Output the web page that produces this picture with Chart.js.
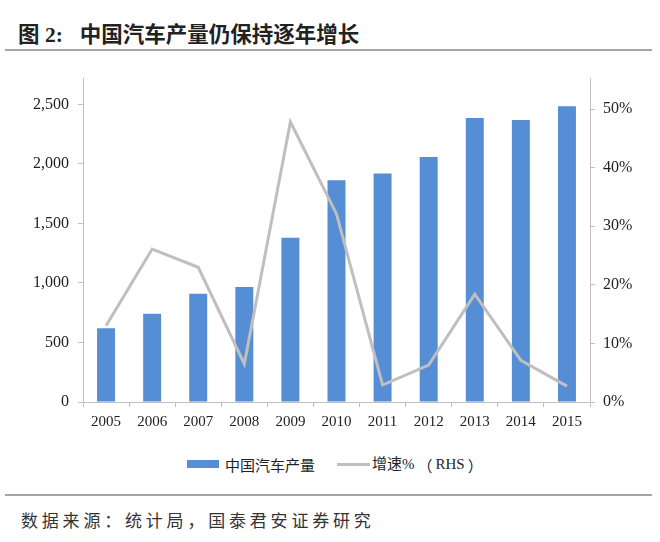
<!DOCTYPE html>
<html>
<head>
<meta charset="utf-8">
<script src="https://cdn.jsdelivr.net/npm/chart.js@4"></script>
<style>
  body { margin: 0; width: 660px; height: 542px; background: #fff; position: relative; overflow: hidden;
         font-family: "Liberation Serif", "Noto Sans CJK SC", serif; color: #222; }
  #title { position: absolute; left: 18px; top: 17px; font-size: 21.5px; font-weight: bold; white-space: nowrap;
           font-family: "Liberation Serif", "Noto Sans CJK SC", serif; }
  #title .num { margin-right: 17px; }
  .rule { position: absolute; left: 5px; width: 647px; height: 2px; background: #a6a6a6; }
  #wrap { position: absolute; left: 0; top: 60px; width: 660px; height: 380px; }
  #legend { position: absolute; top: 452px; left: 187px; height: 18px; font-size: 15px; white-space: nowrap;
            font-family: "Liberation Serif", "Noto Sans CJK SC", serif; }
  #legend span { display: inline-block; vertical-align: middle; }
  .sw-bar { width: 32px; height: 8px; background: #558ed5; margin-right: 6px; }
  .sw-line { width: 33px; height: 3px; background: #bfbfbf; margin-left: 22px; margin-right: 2px; }
  #legend .par { margin: 0 3px; }
  #source { position: absolute; left: 21px; top: 507px; font-size: 17px; letter-spacing: 3.8px; white-space: nowrap;
            font-family: "Noto Sans CJK SC", sans-serif; color: #333; }
</style>
</head>
<body>
<div id="title"><span class="num">图 2:</span>中国汽车产量仍保持逐年增长</div>
<div class="rule" style="top:49px"></div>
<div id="wrap"><canvas id="chart" width="660" height="380"></canvas></div>
<div id="legend">
  <span class="sw-bar"></span><span>中国汽车产量</span><span class="sw-line"></span><span>增速%<span class="par">（</span>RHS<span class="par">）</span></span>
</div>
<div class="rule" style="top:494px"></div>
<div id="source">数据来源：统计局，国泰君安证券研究</div>

<script>
const years = ["2005", "2006", "2007", "2008", "2009", "2010", "2011", "2012", "2013", "2014", "2015"];
const production = [620, 742, 910, 965, 1380, 1862, 1920, 2058, 2385, 2368, 2484];
const growth = [13.0, 26.1, 23.0, 6.5, 47.8, 32.1, 2.9, 6.3, 18.4, 7.1, 2.7];
const leftTicks = [0, 500, 1000, 1500, 2000, 2500];
const rightTicks = [0, 10, 20, 30, 40, 50];

const axisColor = "#bfbfbf";
const tickFont = { family: "Liberation Serif", size: 16 };

const ctx = document.getElementById("chart").getContext("2d");
const chart = new Chart(ctx, {
  data: {
    labels: years,
    datasets: [
      {
        type: "line",
        label: "增速%（RHS）",
        data: growth,
        yAxisID: "y1",
        borderColor: "#bfbfbf",
        borderWidth: 3,
        pointRadius: 0,
        tension: 0,
        order: 0
      },
      {
        type: "bar",
        label: "中国汽车产量",
        data: production,
        yAxisID: "y",
        backgroundColor: "#558ed5",
        barPercentage: 0.39,
        categoryPercentage: 1,
        order: 1
      }
    ]
  },
  options: {
    responsive: false,
    animation: false,
    layout: { padding: { top: 15, left: 0, right: 0, bottom: 0 } },
    plugins: { legend: { display: false }, tooltip: { enabled: false } },
    scales: {
      x: {
        offset: true,
        grid: { drawOnChartArea: false, tickLength: 5, color: axisColor, offset: true },
        border: { color: axisColor },
        ticks: { color: "#222", font: { family: "Liberation Serif", size: 15 }, padding: 6, maxRotation: 0 },
        afterFit: s => { s.height = 38; }
      },
      y: {
        position: "left",
        min: 0,
        max: 2716,
        afterBuildTicks: s => { s.ticks = leftTicks.map(v => ({ value: v })); },
        afterFit: s => { s.width = 83; },
        grid: { drawOnChartArea: false, tickLength: 5, color: axisColor },
        border: { color: axisColor },
        ticks: {
          color: "#222",
          font: tickFont,
          padding: 9,
          callback: v => v.toLocaleString("en-US")
        }
      },
      y1: {
        position: "right",
        min: 0,
        max: 55.2,
        afterBuildTicks: s => { s.ticks = rightTicks.map(v => ({ value: v })); },
        afterFit: s => { s.width = 70; },
        grid: { drawOnChartArea: false, tickLength: 5, color: axisColor },
        border: { color: axisColor },
        ticks: {
          color: "#222",
          font: tickFont,
          padding: 8,
          callback: v => v + "%"
        }
      }
    }
  }
});
</script>
</body>
</html>
